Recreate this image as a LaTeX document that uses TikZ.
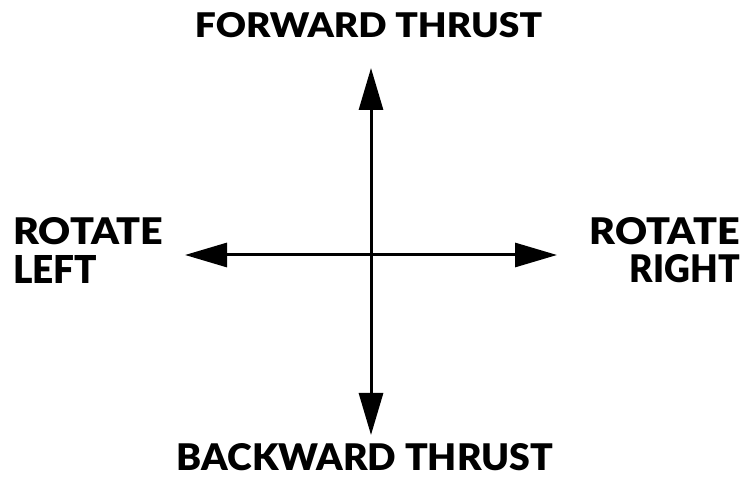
\documentclass[tikz,border=0pt]{standalone}
\usepackage{fontspec}
\setmainfont{Lato}
\newfontfamily\lblack{Lato Black}
\usetikzlibrary{arrows.meta}
\tikzset{
  lbl/.style={inner sep=0pt, font=\lblack},
  axis/.style={line width=3pt, {Triangle[length=42pt,width=24pt]}-{Triangle[length=42pt,width=24pt]}}
}
\begin{document}
\begin{tikzpicture}[x=1pt,y=1pt]
\useasboundingbox (0,0) rectangle (743,476);
\fill[white] (0,0) rectangle (743,476);
% axis ends
\coordinate (top) at (371,408);
\coordinate (bot) at (371,41);
\coordinate (lft) at (185,221);
\coordinate (rgt) at (557,221);
\draw[axis] (bot) -- (top);
\draw[axis] (lft) -- (rgt);
% labels
\node[lbl] (fwd) at (368.5,450.5) {\resizebox{347pt}{25pt}{FORWARD THRUST}};
\node[lbl] (bwd) at (365,19) {\resizebox{376pt}{27pt}{BACKWARD THRUST}};
\node[lbl,anchor=west] (rl1) at (13,244.5) {\resizebox{150pt}{27pt}{ROTATE}};
\node[lbl,anchor=west] (rl2) at (13,207) {\resizebox{84pt}{28pt}{LEFT}};
\node[lbl,anchor=east] (rr1) at (740,244.5) {\resizebox{150pt}{27pt}{ROTATE}};
\node[lbl,anchor=east] (rr2) at (740,207) {\resizebox{110pt}{28pt}{RIGHT}};
\end{tikzpicture}
\end{document}
